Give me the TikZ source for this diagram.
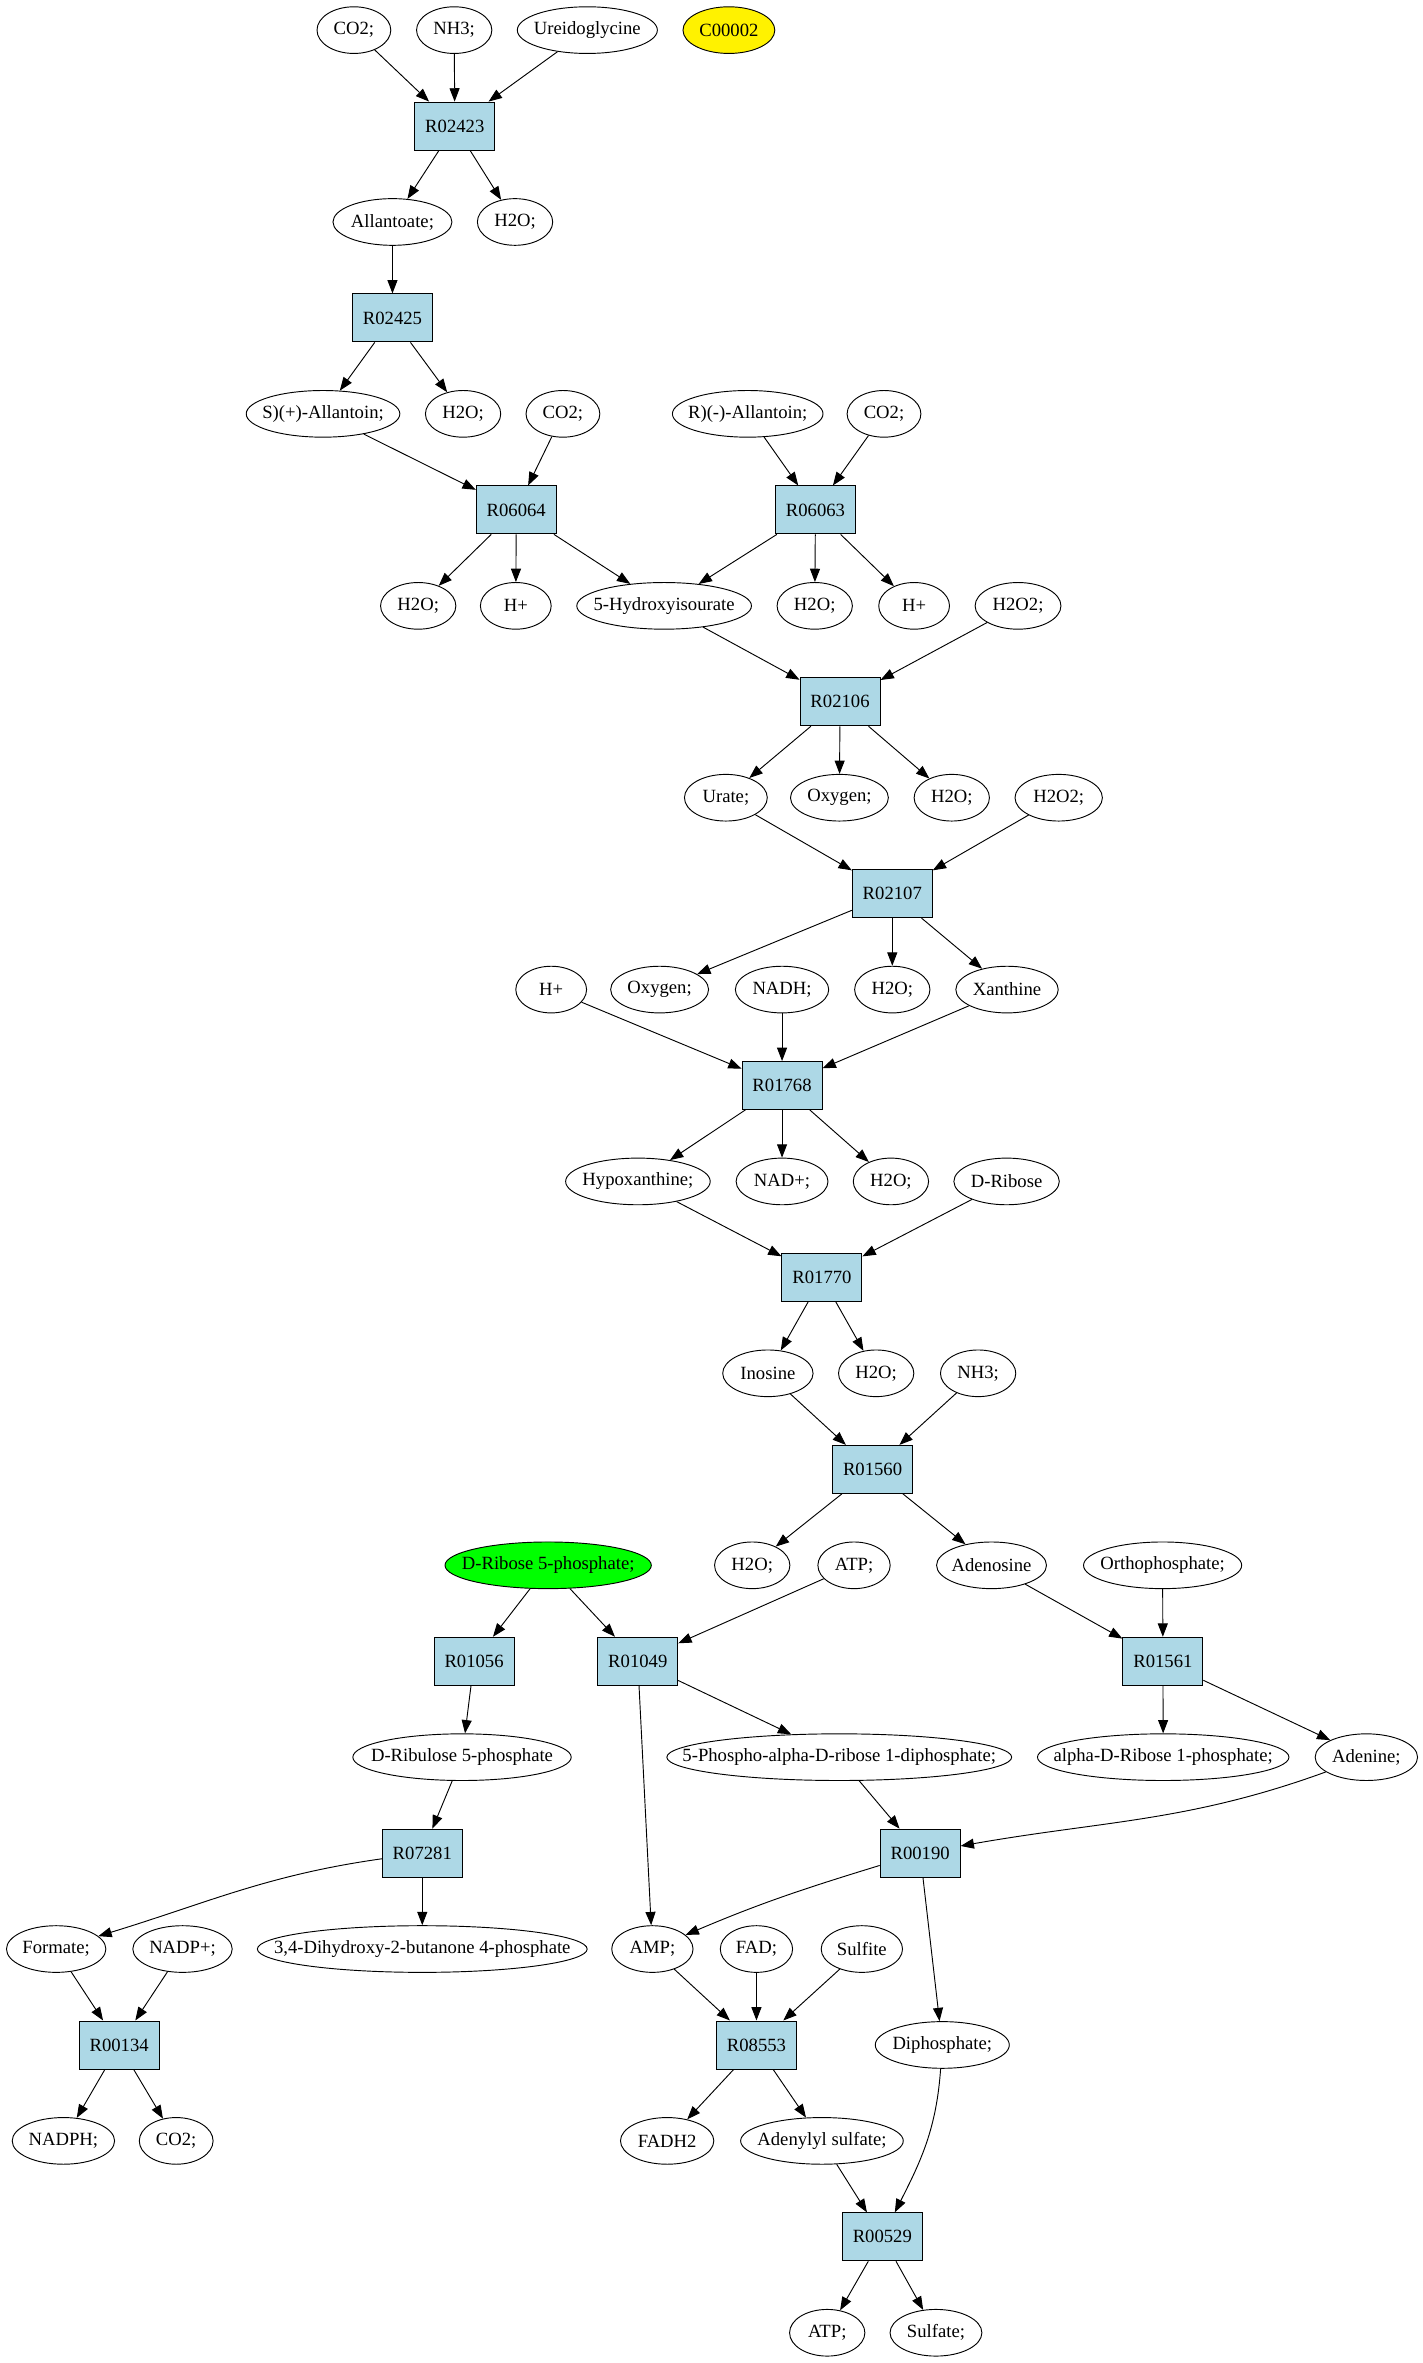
\documentclass[tikz,border=0pt]{standalone}
\usepackage{fontspec}
\setmainfont{Liberation Serif}
\usetikzlibrary{shapes.geometric,arrows.meta}
\definecolor{rxnblue}{HTML}{ADD8E6}
\newcommand{\zt}[1]{\makebox[0pt]{#1}}
\begin{document}
\begin{tikzpicture}[x=1.1295pt,y=-1.1295pt,
  every node/.style={font=\fontsize{14pt}{16pt}\selectfont},
  met/.style={ellipse,draw,line width=0.7pt,inner sep=0pt,minimum height=35pt},
  wd/.style={minimum width=#1*1.1295pt},
  rxn/.style={rectangle,draw,fill=rxnblue,line width=0.7pt,inner sep=0pt,minimum width=60pt,minimum height=36pt},
  arr/.style={-{Triangle[length=10pt,width=7.5pt]},line width=0.7pt}]
\path[fill=white] (0,0) rectangle (944.9,1569.1);
\useasboundingbox (0,0) rectangle (944.9,1569.1);
% row 0
\node[met,wd=49] (co2a) at (235,20) {\zt{CO2;}};
\node[met,wd=50] (nh3a) at (301.6,20) {\zt{NH3;}};
\node[met,wd=93] (ureido) at (390,20) {\zt{Ureidoglycine}};
\node[met,wd=61,fill=yellow] (c00002) at (484,20) {\zt{C00002}};
% row 1
\node[rxn] (r02423) at (302,83.7) {R02423};
% row 2
\node[met,wd=79] (allantoate) at (260.6,147.4) {\zt{Allantoate;}};
\node[met,wd=50] (h2oa) at (342,147.4) {\zt{H2O;}};
% row 3
\node[rxn] (r02425) at (260.6,211.1) {R02425};
% row 4
\node[met,wd=102] (sallan) at (214.5,274.8) {\zt{S)(+)-Allantoin;}};
\node[met,wd=50] (h2ob) at (307.5,274.8) {\zt{H2O;}};
\node[met,wd=49] (co2b) at (373.8,274.8) {\zt{CO2;}};
\node[met,wd=100] (rallan) at (496.5,274.8) {\zt{R)(-)-Allantoin;}};
\node[met,wd=49] (co2c) at (587,274.8) {\zt{CO2;}};
% row 5
\node[rxn] (r06064) at (342.8,338.6) {R06064};
\node[rxn] (r06063) at (541.5,338.6) {R06063};
% row 6
\node[met,wd=50] (h2oc) at (277.7,402.3) {\zt{H2O;}};
\node[met,wd=47] (hpa) at (342.5,402.3) {\zt{H+}};
\node[met,wd=116] (hydroxy) at (441,402.3) {\zt{5-Hydroxyisourate}};
\node[met,wd=50] (h2od) at (541,402.3) {\zt{H2O;}};
\node[met,wd=47] (hpb) at (607,402.3) {\zt{H+}};
\node[met,wd=57] (h2o2a) at (676,402.3) {\zt{H2O2;}};
% row 7
\node[rxn] (r02106) at (557.8,466) {R02106};
% row 8
\node[met,wd=55] (urate) at (482,529.7) {\zt{Urate;}};
\node[met,wd=65] (oxya) at (557.4,529.7) {\zt{Oxygen;}};
\node[met,wd=50] (h2oe) at (632,529.7) {\zt{H2O;}};
\node[met,wd=58] (h2o2b) at (703,529.7) {\zt{H2O2;}};
% row 9
\node[rxn] (r02107) at (592.5,593.4) {R02107};
% row 10
\node[met,wd=47] (hpc) at (366,657.1) {\zt{H+}};
\node[met,wd=65] (oxyb) at (438,657.1) {\zt{Oxygen;}};
\node[met,wd=62] (nadh) at (519.3,657.1) {\zt{NADH;}};
\node[met,wd=50] (h2of) at (592.5,657.1) {\zt{H2O;}};
\node[met,wd=68] (xanthine) at (668.7,657.1) {\zt{Xanthine}};
% row 11
\node[rxn] (r01768) at (519.3,720.8) {R01768};
% row 12
\node[met,wd=96] (hypox) at (423.6,784.5) {\zt{Hypoxanthine;}};
\node[met,wd=61] (nadplus) at (519.3,784.5) {\zt{NAD+;}};
\node[met,wd=50] (h2og) at (591.6,784.5) {\zt{H2O;}};
\node[met,wd=70] (dribose) at (668.4,784.5) {\zt{D-Ribose}};
% row 13
\node[rxn] (r01770) at (545.8,848.2) {R01770};
% row 14
\node[met,wd=60] (inosine) at (509.9,911.9) {\zt{Inosine}};
\node[met,wd=50] (h2oh) at (581.8,911.9) {\zt{H2O;}};
\node[met,wd=50] (nh3b) at (649.5,911.9) {\zt{NH3;}};
% row 15
\node[rxn] (r01560) at (579.4,975.7) {R01560};
% row 16
\node[met,wd=137,fill=green] (r5p) at (364,1039.4) {\zt{D-Ribose 5-phosphate;}};
\node[met,wd=50] (h2oi) at (499.5,1039.4) {\zt{H2O;}};
\node[met,wd=48] (atpa) at (567.1,1039.4) {\zt{ATP;}};
\node[met,wd=73] (adenosine) at (658.4,1039.4) {\zt{Adenosine}};
\node[met,wd=105] (ortho) at (772,1039.4) {\zt{Orthophosphate;}};
% row 17
\node[rxn] (r01056) at (314.8,1103.1) {R01056};
\node[rxn] (r01049) at (423.5,1103.1) {R01049};
\node[rxn] (r01561) at (772.2,1103.1) {R01561};
% row 18
\node[met,wd=145] (ribulose) at (306.8,1166.8) {\zt{D-Ribulose 5-phosphate}};
\node[met,wd=229] (prpp) at (557.3,1166.8) {\zt{5-Phospho-alpha-D-ribose 1-diphosphate;}};
\node[met,wd=167] (ar1p) at (772.4,1166.8) {\zt{alpha-D-Ribose 1-phosphate;}};
\node[met,wd=68] (adenine) at (907.3,1166.8) {\zt{Adenine;}};
% row 19
\node[rxn] (r07281) at (280.4,1230.5) {R07281};
\node[rxn] (r00190) at (611,1230.5) {R00190};
% row 20
\node[met,wd=66] (formate) at (37.3,1294.2) {\zt{Formate;}};
\node[met,wd=66] (nadpp) at (121.2,1294.2) {\zt{NADP+;}};
\node[met,wd=219] (dihydroxy) at (280.4,1294.2) {\zt{3,4-Dihydroxy-2-butanone 4-phosphate}};
\node[met,wd=54] (amp) at (433.2,1294.2) {\zt{AMP;}};
\node[met,wd=48] (fad) at (502.3,1294.2) {\zt{FAD;}};
\node[met,wd=54] (sulfite) at (572.3,1294.2) {\zt{Sulfite}};
% row 21
\node[rxn] (r00134) at (79.1,1357.9) {R00134};
\node[rxn] (r08553) at (502.3,1357.9) {R08553};
\node[met,wd=89] (diphosphate) at (625.7,1357.9) {\zt{Diphosphate;}};
% row 22
\node[met,wd=68] (nadph) at (42.1,1421.6) {\zt{NADPH;}};
\node[met,wd=49] (co2d) at (117,1421.6) {\zt{CO2;}};
\node[met,wd=62] (fadh2) at (443,1421.6) {\zt{FADH2}};
\node[met,wd=108] (adenylyl) at (545.8,1421.6) {\zt{Adenylyl sulfate;}};
% row 23
\node[rxn] (r00529) at (585.9,1485.3) {R00529};
% row 24
\node[met,wd=50] (atpb) at (549.3,1549) {\zt{ATP;}};
\node[met,wd=61] (sulfate) at (621.5,1549) {\zt{Sulfate;}};
% edges
\draw[arr] (co2a) -- (r02423);
\draw[arr] (nh3a) -- (r02423);
\draw[arr] (ureido) -- (r02423);
\draw[arr] (r02423) -- (allantoate);
\draw[arr] (r02423) -- (h2oa);
\draw[arr] (allantoate) -- (r02425);
\draw[arr] (r02425) -- (sallan);
\draw[arr] (r02425) -- (h2ob);
\draw[arr] (sallan) -- (r06064);
\draw[arr] (co2b) -- (r06064);
\draw[arr] (rallan) -- (r06063);
\draw[arr] (co2c) -- (r06063);
\draw[arr] (r06064) -- (h2oc);
\draw[arr] (r06064) -- (hpa);
\draw[arr] (r06064) -- (hydroxy);
\draw[arr] (r06063) -- (hydroxy);
\draw[arr] (r06063) -- (h2od);
\draw[arr] (r06063) -- (hpb);
\draw[arr] (hydroxy) -- (r02106);
\draw[arr] (h2o2a) -- (r02106);
\draw[arr] (r02106) -- (urate);
\draw[arr] (r02106) -- (oxya);
\draw[arr] (r02106) -- (h2oe);
\draw[arr] (urate) -- (r02107);
\draw[arr] (h2o2b) -- (r02107);
\draw[arr] (r02107) -- (oxyb);
\draw[arr] (r02107) -- (h2of);
\draw[arr] (r02107) -- (xanthine);
\draw[arr] (hpc) -- (r01768);
\draw[arr] (nadh) -- (r01768);
\draw[arr] (xanthine) -- (r01768);
\draw[arr] (r01768) -- (hypox);
\draw[arr] (r01768) -- (nadplus);
\draw[arr] (r01768) -- (h2og);
\draw[arr] (hypox) -- (r01770);
\draw[arr] (dribose) -- (r01770);
\draw[arr] (r01770) -- (inosine);
\draw[arr] (r01770) -- (h2oh);
\draw[arr] (inosine) -- (r01560);
\draw[arr] (nh3b) -- (r01560);
\draw[arr] (r01560) -- (h2oi);
\draw[arr] (r01560) -- (adenosine);
\draw[arr] (r5p) -- (r01056);
\draw[arr] (r5p) -- (r01049);
\draw[arr] (atpa) -- (r01049);
\draw[arr] (adenosine) -- (r01561);
\draw[arr] (ortho) -- (r01561);
\draw[arr] (r01056) -- (ribulose);
\draw[arr] (r01049) -- (amp);
\draw[arr] (r01049) -- (prpp);
\draw[arr] (r01561) -- (ar1p);
\draw[arr] (r01561) -- (adenine);
\draw[arr] (ribulose) -- (r07281);
\draw[arr] (prpp) -- (r00190);
\draw[arr] (adenine) to[out=200,in=10] (r00190);
\draw[arr] (r07281) to[out=188,in=17] (formate);
\draw[arr] (r07281) -- (dihydroxy);
\draw[arr] (r00190) to[out=197,in=23] (amp);
\draw[arr] (r00190) -- (diphosphate);
\draw[arr] (formate) -- (r00134);
\draw[arr] (nadpp) -- (r00134);
\draw[arr] (amp) -- (r08553);
\draw[arr] (fad) -- (r08553);
\draw[arr] (sulfite) -- (r08553);
\draw[arr] (r00134) -- (nadph);
\draw[arr] (r00134) -- (co2d);
\draw[arr] (r08553) -- (fadh2);
\draw[arr] (r08553) -- (adenylyl);
\draw[arr] (adenylyl) -- (r00529);
\draw[arr] (diphosphate) to[out=266,in=63] (r00529);
\draw[arr] (r00529) -- (atpb);
\draw[arr] (r00529) -- (sulfate);
\end{tikzpicture}
\end{document}
